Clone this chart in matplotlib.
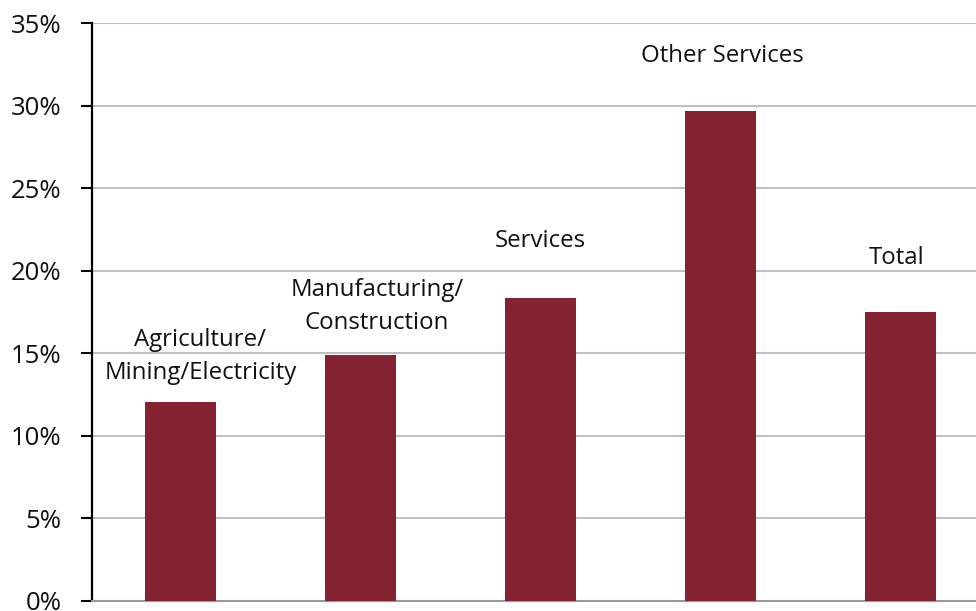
import matplotlib
matplotlib.use("Agg")
import matplotlib.pyplot as plt
from matplotlib.ticker import FuncFormatter

plt.rcParams['font.family'] = ['Open Sans', 'DejaVu Sans']

sectors = ["Agriculture/\nMining/Electricity", "Manufacturing/\nConstruction",
           "Services", "Other Services", "Total"]
shares = [12.05, 14.9, 18.35, 29.7, 17.5]
yticks = [0, 5, 10, 15, 20, 25, 30, 35]

# label placement (x nudge, y centre in axis units)
label_dx = [0.11, 0.09, 0.0, 0.01, -0.02]
label_y = [14.8, 17.85, 21.8, 33.0, 20.8]

fig = plt.figure(figsize=(9.76, 6.11), dpi=100)
ax = fig.add_axes([92 / 976, 10 / 611, 884 / 976, 578 / 611])

x = list(range(len(sectors)))
ax.bar(x, shares, width=0.394, color="#842232", zorder=3)

for i, name in enumerate(sectors):
    ax.text(x[i] + label_dx[i], label_y[i], name, ha="center", va="center",
            fontsize=17.3, color="#111111", linespacing=1.48)

ax.set_ylim(0, 35)
ax.set_xlim(-0.492, -0.492 + 884 / 180)
ax.set_yticks(yticks)
ax.yaxis.set_major_formatter(FuncFormatter(lambda v, p: f"{v:.0f}%"))
ax.set_xticks([])
ax.yaxis.grid(True, color="#c0c0c0", linewidth=1.5, zorder=0)
ax.set_axisbelow(True)

for s in ["top", "right"]:
    ax.spines[s].set_visible(False)
ax.spines["left"].set_color("black")
ax.spines["left"].set_linewidth(1.6)
ax.spines["bottom"].set_color("#999999")
ax.spines["bottom"].set_linewidth(1.5)
ax.tick_params(axis="y", length=8, width=1.5, labelsize=18.5, pad=14, color="black",
               labelcolor="#111111")

fig.savefig("out.png", dpi=100)
